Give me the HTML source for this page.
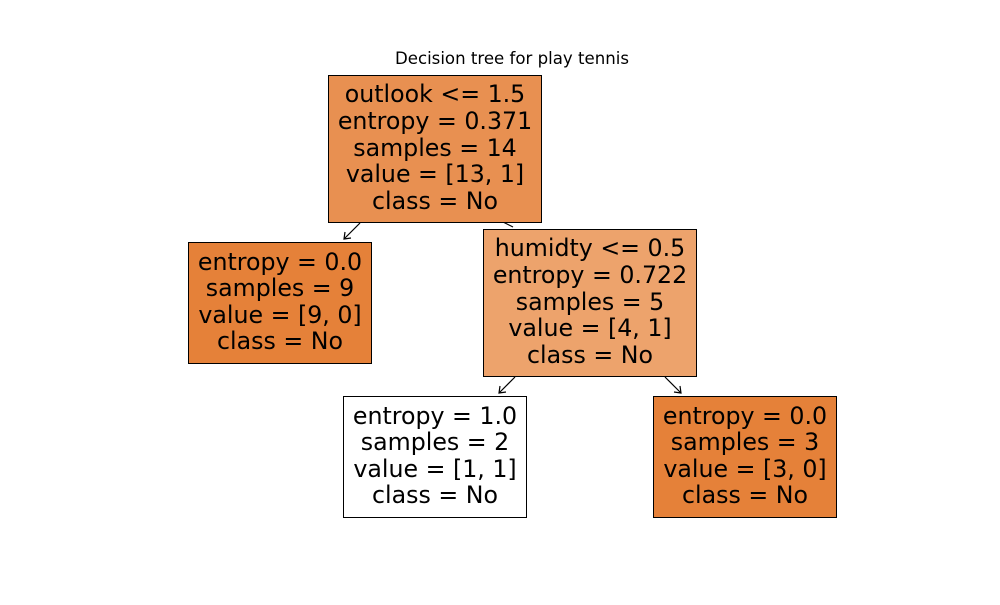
<!DOCTYPE html>
<html><head><style>body{margin:0;background:#fff}</style></head><body>
<svg width="1000" height="600" xmlns="http://www.w3.org/2000/svg" font-family="DejaVu Sans, Liberation Sans, sans-serif">
<rect width="1000" height="600" fill="#fff"/>
<text x="512" y="64" font-size="16.6" text-anchor="middle">Decision tree for play tennis</text>
<g stroke="#000" stroke-width="1.2" fill="none">
<line x1="360" y1="223" x2="344" y2="239"/><polyline points="345,232 344,239 351,238"/>
<line x1="503" y1="222" x2="513" y2="227"/>
<line x1="515" y1="377" x2="499" y2="393"/><polyline points="500,386 499,393 506,392"/>
<line x1="665" y1="377" x2="681" y2="393"/><polyline points="674,392 681,393 680,386"/>
</g>
<g stroke="#000" stroke-width="1">
<rect x="328.5" y="75.5" width="213" height="147" fill="#e89051"/>
<rect x="188.5" y="242.5" width="183" height="121" fill="#e58139"/>
<rect x="483.5" y="229.5" width="213" height="147" fill="#eda36c"/>
<rect x="343.5" y="396.5" width="183" height="121" fill="#ffffff"/>
<rect x="653.5" y="396.5" width="183" height="121" fill="#e58139"/>
</g>
<g font-size="23.7" text-anchor="middle" fill="#000">
<text x="435" y="102">outlook &lt;= 1.5</text>
<text x="435" y="129">entropy = 0.371</text>
<text x="435" y="156">samples = 14</text>
<text x="435" y="182">value = [13, 1]</text>
<text x="435" y="209">class = No</text>
<text x="280" y="270">entropy = 0.0</text>
<text x="280" y="296">samples = 9</text>
<text x="280" y="323">value = [9, 0]</text>
<text x="280" y="349">class = No</text>
<text x="590" y="256">humidty &lt;= 0.5</text>
<text x="590" y="283">entropy = 0.722</text>
<text x="590" y="310">samples = 5</text>
<text x="590" y="336">value = [4, 1]</text>
<text x="590" y="363">class = No</text>
<text x="435" y="424">entropy = 1.0</text>
<text x="435" y="450">samples = 2</text>
<text x="435" y="477">value = [1, 1]</text>
<text x="435" y="503">class = No</text>
<text x="745" y="424">entropy = 0.0</text>
<text x="745" y="450">samples = 3</text>
<text x="745" y="477">value = [3, 0]</text>
<text x="745" y="503">class = No</text>
</g>
</svg>
</body></html>
